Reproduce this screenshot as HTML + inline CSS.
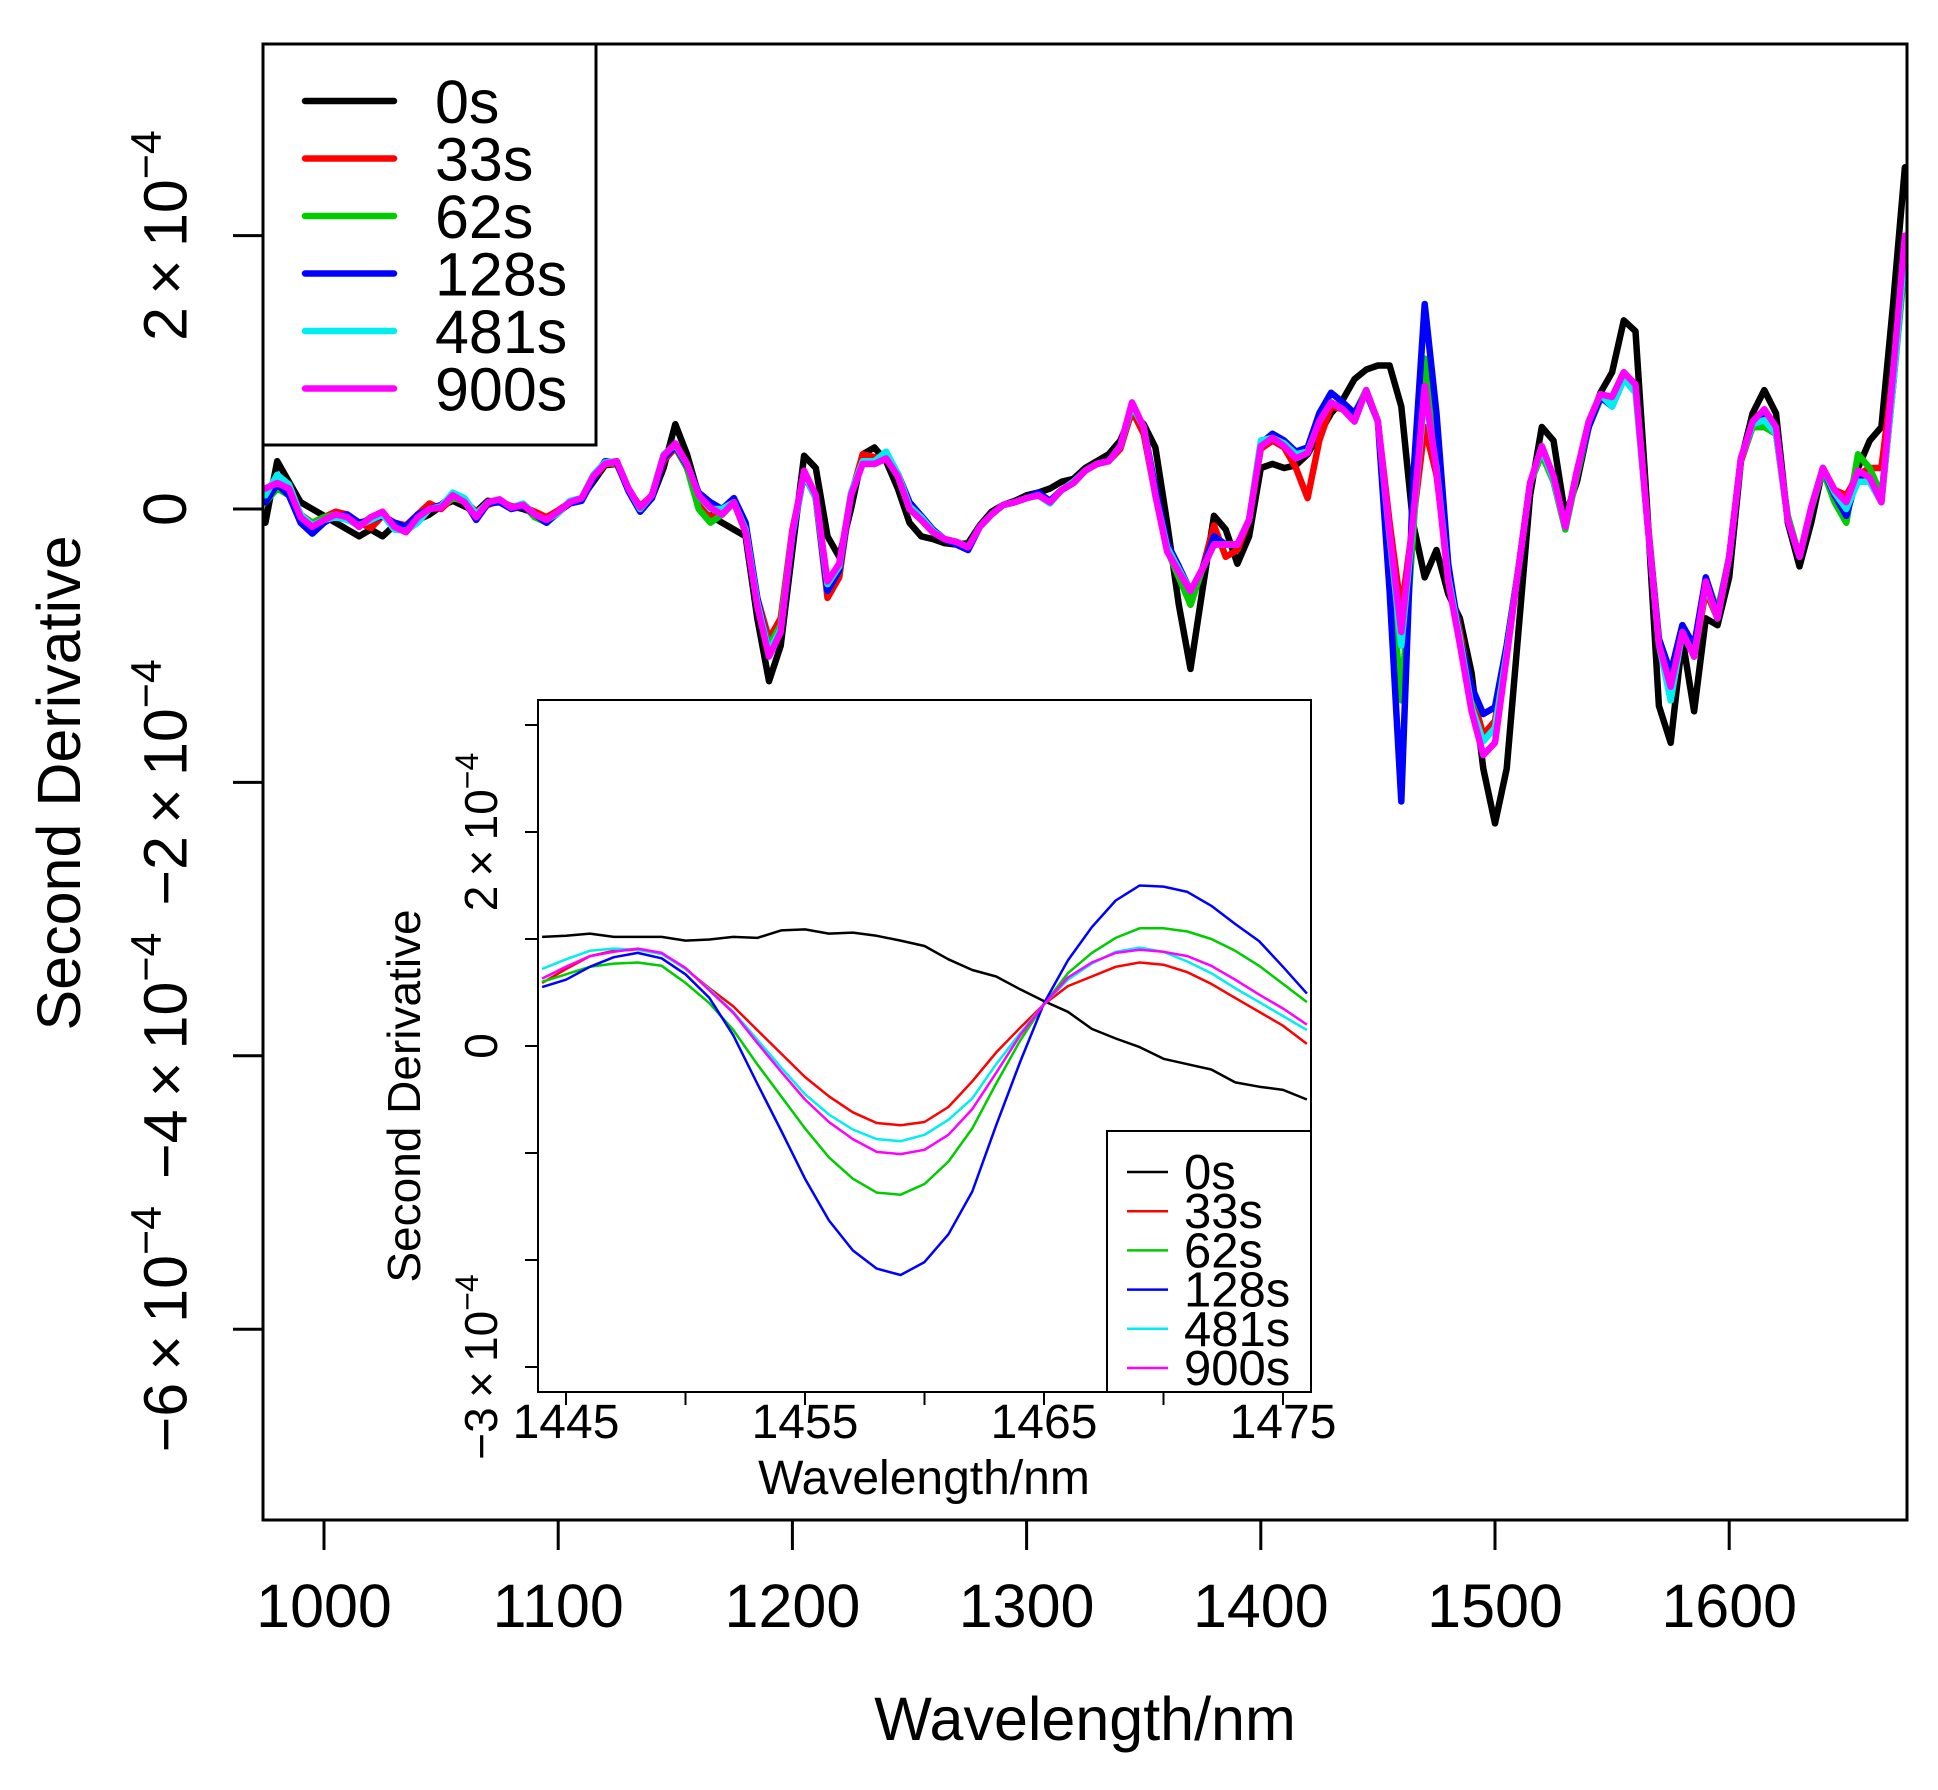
<!DOCTYPE html>
<html><head><meta charset="utf-8"><style>
html,body{margin:0;padding:0;background:#fff}
svg{display:block;font-family:"Liberation Sans",Arial,sans-serif}
</style></head><body>
<svg id="chart" width="1938" height="1790" viewBox="0 0 1938 1790" xmlns="http://www.w3.org/2000/svg">
<defs>
<clipPath id="mainClip"><rect x="263" y="44" width="1644" height="1476"/></clipPath>
<clipPath id="insetClip"><rect x="538" y="700" width="773" height="692"/></clipPath>
</defs>
<rect x="0" y="0" width="1938" height="1790" fill="#fff"/>
<g id="mainLines" clip-path="url(#mainClip)"></g>
<rect x="263" y="44" width="1644" height="1476" fill="none" stroke="#000" stroke-width="3"/>
<g id="mainXTicks"></g>
<g id="mainYTicks"></g>
<text x="1085" y="1740" font-size="61" text-anchor="middle">Wavelength/nm</text>
<text transform="translate(80,783) rotate(-90)" font-size="61" text-anchor="middle">Second Derivative</text>
<g>
<rect x="263" y="44" width="333" height="401" fill="#fff" stroke="#000" stroke-width="3"/>
<g id="mainLegend"></g>
</g>
<g>
<rect x="538" y="700" width="773" height="692" fill="#fff"/>
<g id="insetLines" clip-path="url(#insetClip)"></g>
<g>
<rect x="1107" y="1131" width="204" height="261" fill="#fff" stroke="#000" stroke-width="2"/>
<g id="insetLegend"></g>
</g>
<rect x="538" y="700" width="773" height="692" fill="none" stroke="#000" stroke-width="2"/>
<g id="insetXTicks"></g>
<g id="insetYTicks"></g>
<text x="924" y="1494" font-size="48" text-anchor="middle">Wavelength/nm</text>
<text transform="translate(420,1096) rotate(-90)" font-size="46" text-anchor="middle">Second Derivative</text>
</g>
</svg>
<script>
// ===== main chart data (values in units of 1e-4), wavelengths 975..1675 step 5 =====
const mainStart = 975, mainStep = 5;
const seriesLabels = ["0s","33s","62s","128s","481s","900s"];
const seriesColors = ["#000000","#ff0000","#00cc00","#0000ff","#00eeee","#ff00ff"];
const main0s = [
-0.1,0.35,0.2,0.05,0.0,-0.05,-0.1,-0.15,-0.2,-0.15,
-0.2,-0.12,-0.12,-0.08,-0.04,0.02,0.06,0.02,-0.02,0.06,
0.05,0.02,0.0,-0.03,-0.06,-0.02,0.04,0.08,0.2,0.32,
0.33,0.15,0.0,0.08,0.3,0.62,0.4,0.1,-0.05,-0.1,
-0.15,-0.2,-0.8,-1.26,-1.0,-0.3,0.39,0.3,-0.2,-0.35,
0.0,0.4,0.45,0.35,0.15,-0.1,-0.2,-0.22,-0.25,-0.26,
-0.25,-0.12,-0.02,0.03,0.06,0.1,0.12,0.15,0.2,0.22,
0.3,0.35,0.4,0.5,0.7,0.62,0.45,-0.1,-0.7,-1.17,
-0.6,-0.05,-0.15,-0.4,-0.2,0.3,0.33,0.3,0.32,0.4,
0.55,0.7,0.8,0.95,1.02,1.05,1.05,0.75,-0.1,-0.5,
-0.3,-0.62,-0.8,-1.2,-1.9,-2.3,-1.9,-0.9,0.1,0.6,
0.5,-0.05,0.2,0.6,0.85,1.0,1.38,1.3,0.0,-1.44,
-1.71,-0.95,-1.48,-0.8,-0.85,-0.5,0.35,0.7,0.87,0.7,
-0.1,-0.42,-0.1,0.3,0.1,0.05,0.3,0.5,0.6,1.5,
2.5];
const main33s = [
0.1,0.2,0.12,-0.04,-0.1,-0.06,-0.02,-0.04,-0.1,-0.14,
-0.05,-0.1,-0.12,-0.04,0.04,0.0,0.08,0.06,-0.02,0.03,
0.06,0.02,0.02,-0.02,-0.06,-0.01,0.05,0.08,0.22,0.33,
0.33,0.14,0.02,0.1,0.35,0.45,0.3,0.05,-0.06,-0.04,
0.05,-0.17,-0.65,-0.95,-0.8,-0.15,0.25,0.08,-0.65,-0.5,
0.1,0.4,0.38,0.37,0.24,0.0,-0.08,-0.17,-0.22,-0.24,
-0.28,-0.13,-0.04,0.03,0.05,0.08,0.1,0.05,0.14,0.19,
0.28,0.33,0.35,0.44,0.72,0.55,0.1,-0.25,-0.42,-0.7,
-0.44,-0.12,-0.35,-0.3,-0.08,0.44,0.5,0.45,0.3,0.08,
0.5,0.75,0.73,0.64,0.87,0.64,-0.1,-0.75,-0.1,0.6,
0.25,-0.45,-0.9,-1.35,-1.65,-1.55,-1.0,-0.44,0.19,0.4,
0.24,-0.13,0.28,0.6,0.82,0.82,1.0,0.9,-0.05,-0.95,
-1.2,-0.85,-1.08,-0.6,-0.8,-0.35,0.35,0.6,0.6,0.55,
-0.08,-0.35,0.0,0.3,0.14,0.1,0.25,0.3,0.3,1.0,
1.9];
const main62s = [
0.05,0.15,0.1,-0.05,-0.1,-0.06,-0.04,-0.06,-0.12,-0.06,
-0.04,-0.12,-0.14,-0.06,0.0,0.02,0.08,0.06,-0.05,0.05,
0.06,0.01,0.03,-0.06,-0.1,-0.03,0.05,0.08,0.24,0.33,
0.34,0.15,0.01,0.1,0.38,0.46,0.3,0.0,-0.1,-0.04,
0.05,-0.17,-0.7,-1.0,-0.85,-0.17,0.26,0.08,-0.6,-0.45,
0.1,0.35,0.35,0.37,0.24,0.0,-0.08,-0.17,-0.22,-0.24,
-0.28,-0.13,-0.04,0.03,0.05,0.08,0.1,0.05,0.14,0.19,
0.28,0.33,0.35,0.46,0.75,0.6,0.1,-0.3,-0.5,-0.7,
-0.44,-0.26,-0.26,-0.26,-0.08,0.46,0.55,0.5,0.4,0.45,
0.64,0.78,0.73,0.7,0.87,0.64,-0.4,-1.4,-0.2,1.1,
0.4,-0.45,-0.95,-1.35,-1.5,-1.45,-1.0,-0.44,0.19,0.4,
0.2,-0.15,0.25,0.6,0.8,0.8,0.95,0.9,-0.08,-0.95,
-1.2,-0.85,-1.05,-0.5,-0.75,-0.35,0.37,0.6,0.6,0.55,
-0.05,-0.35,0.0,0.28,0.05,-0.1,0.4,0.3,0.1,0.9,
1.8];
const main128s = [
0.05,0.18,0.1,-0.1,-0.18,-0.1,-0.05,-0.04,-0.1,-0.08,
-0.05,-0.1,-0.13,-0.04,0.0,0.03,0.1,0.06,-0.08,0.04,
0.05,0.0,0.02,-0.04,-0.1,-0.02,0.04,0.06,0.22,0.35,
0.34,0.13,-0.02,0.08,0.37,0.46,0.32,0.12,0.05,0.0,
0.08,-0.1,-0.65,-1.05,-0.9,-0.2,0.26,0.08,-0.6,-0.45,
0.1,0.35,0.33,0.37,0.26,0.05,-0.05,-0.15,-0.22,-0.26,
-0.3,-0.13,-0.04,0.03,0.05,0.08,0.12,0.06,0.14,0.19,
0.28,0.33,0.35,0.46,0.76,0.6,0.15,-0.25,-0.42,-0.6,
-0.44,-0.2,-0.26,-0.26,-0.08,0.48,0.55,0.5,0.42,0.45,
0.7,0.85,0.78,0.7,0.85,0.64,-0.6,-2.14,0.2,1.5,
0.7,-0.4,-0.95,-1.3,-1.5,-1.45,-1.0,-0.44,0.19,0.45,
0.24,-0.13,0.28,0.6,0.82,0.75,0.95,0.9,-0.08,-0.95,
-1.2,-0.85,-1.0,-0.5,-0.78,-0.35,0.37,0.62,0.7,0.6,
-0.08,-0.35,0.01,0.3,0.1,-0.05,0.25,0.2,0.05,0.9,
1.9];
const main481s = [
0.1,0.25,0.18,-0.04,-0.12,-0.08,-0.06,-0.08,-0.12,-0.08,
-0.04,-0.15,-0.16,-0.1,0.0,0.02,0.12,0.08,-0.04,0.05,
0.07,0.01,0.04,-0.04,-0.08,-0.03,0.06,0.08,0.25,0.34,
0.35,0.15,0.0,0.1,0.4,0.47,0.33,0.1,0.0,0.0,
0.05,-0.15,-0.68,-1.05,-0.88,-0.18,0.26,0.08,-0.55,-0.42,
0.12,0.35,0.35,0.42,0.26,0.02,-0.06,-0.16,-0.22,-0.24,
-0.28,-0.13,-0.04,0.03,0.05,0.08,0.1,0.04,0.14,0.2,
0.28,0.33,0.35,0.46,0.76,0.6,0.1,-0.28,-0.44,-0.6,
-0.44,-0.26,-0.26,-0.26,-0.08,0.5,0.52,0.48,0.4,0.42,
0.64,0.78,0.73,0.64,0.87,0.64,-0.2,-1.0,-0.1,0.85,
0.3,-0.5,-0.95,-1.45,-1.7,-1.6,-1.05,-0.44,0.19,0.44,
0.22,-0.13,0.28,0.64,0.84,0.75,0.95,0.85,-0.08,-0.99,
-1.4,-0.9,-1.08,-0.55,-0.8,-0.35,0.37,0.62,0.65,0.55,
-0.08,-0.35,0.01,0.3,0.12,0.0,0.2,0.2,0.05,0.9,
1.9];
const main900s = [
0.15,0.19,0.15,-0.06,-0.13,-0.08,-0.04,-0.06,-0.13,-0.06,
-0.02,-0.13,-0.17,-0.06,0,0.01,0.1,0.05,-0.06,0.05,
0.07,0.01,0.03,-0.04,-0.08,-0.02,0.05,0.08,0.24,0.33,
0.35,0.15,0.01,0.1,0.39,0.48,0.33,0.1,0.01,-0.04,
0.05,-0.17,-0.71,-1.08,-0.9,-0.17,0.28,0.1,-0.53,-0.4,
0.1,0.33,0.33,0.37,0.24,0,-0.08,-0.17,-0.22,-0.24,
-0.28,-0.13,-0.04,0.03,0.05,0.08,0.1,0.05,0.14,0.19,
0.28,0.33,0.35,0.46,0.78,0.6,0.1,-0.31,-0.46,-0.6,
-0.44,-0.26,-0.26,-0.26,-0.08,0.46,0.52,0.46,0.37,0.41,
0.64,0.78,0.73,0.64,0.87,0.64,-0.17,-0.9,-0.08,0.9,
0.28,-0.53,-0.99,-1.48,-1.8,-1.71,-1.08,-0.44,0.19,0.46,
0.24,-0.13,0.28,0.64,0.84,0.82,1.0,0.91,-0.08,-0.99,
-1.3,-0.9,-1.08,-0.53,-0.8,-0.35,0.37,0.64,0.73,0.6,
-0.08,-0.35,0.01,0.3,0.14,0.05,0.28,0.23,0.05,1.0,
2.0];
const mainXTickValues = [1000,1100,1200,1300,1400,1500,1600];
const mainYTickValues = [2,0,-2,-4,-6];

// ===== inset data, wavelengths 1444..1476 step 1 =====
const insetStart = 1444, insetStep = 1;
const inset0s = [1.02,1.03,1.05,1.02,1.02,1.02,0.985,0.995,1.02,1.01,1.08,1.09,1.05,1.06,1.03,0.985,0.935,0.81,0.71,0.65,0.53,0.42,0.32,0.16,0.07,-0.01,-0.12,-0.17,-0.22,-0.34,-0.38,-0.41,-0.50];
const inset33s = [0.59,0.72,0.84,0.89,0.90,0.87,0.72,0.54,0.37,0.15,-0.07,-0.29,-0.47,-0.62,-0.72,-0.74,-0.71,-0.57,-0.33,-0.06,0.17,0.39,0.56,0.65,0.74,0.78,0.76,0.69,0.58,0.45,0.32,0.19,0.02];
const inset62s = [0.60,0.67,0.74,0.77,0.78,0.75,0.59,0.40,0.15,-0.17,-0.47,-0.77,-1.04,-1.24,-1.37,-1.39,-1.29,-1.08,-0.77,-0.35,0.05,0.39,0.68,0.87,1.01,1.10,1.10,1.07,1.00,0.89,0.75,0.58,0.41];
const inset128s = [0.55,0.62,0.74,0.83,0.87,0.82,0.67,0.45,0.10,-0.35,-0.79,-1.24,-1.63,-1.91,-2.08,-2.14,-2.02,-1.76,-1.36,-0.74,-0.15,0.40,0.80,1.11,1.36,1.50,1.49,1.44,1.31,1.14,0.98,0.74,0.49];
const inset481s = [0.72,0.81,0.89,0.91,0.90,0.86,0.72,0.53,0.32,0.06,-0.20,-0.45,-0.64,-0.78,-0.87,-0.89,-0.83,-0.69,-0.49,-0.17,0.12,0.39,0.62,0.77,0.88,0.92,0.88,0.79,0.68,0.54,0.41,0.28,0.15];
const inset900s = [0.63,0.74,0.84,0.88,0.91,0.87,0.73,0.52,0.31,0.03,-0.24,-0.50,-0.71,-0.87,-0.99,-1.01,-0.97,-0.83,-0.59,-0.25,0.10,0.39,0.64,0.78,0.87,0.90,0.88,0.84,0.75,0.62,0.48,0.35,0.20];
const insetXTickValues = [1445,1450,1455,1460,1465,1470,1475];
const insetXLabelValues = [1445,1455,1465,1475];
const insetYTickValues = [3,2,1,0,-1,-2,-3];
const insetYLabelValues = [2,0,-3];

const mainSeries = [main0s,main33s,main62s,main128s,main481s,main900s];
const insetSeries = [inset0s,inset33s,inset62s,inset128s,inset481s,inset900s];

const NS = "http://www.w3.org/2000/svg";
function mx(nm){ return 324 + (nm-1000)*2.342; }
function my(v){ return 509 - v*136.7; }
function ix(nm){ return 566 + (nm-1445)*23.9; }
function iy(v){ return 1046 - v*107; }
function mk(tag, attrs, parent){
  const e = document.createElementNS(NS, tag);
  for (const k in attrs) e.setAttribute(k, attrs[k]);
  parent.appendChild(e);
  return e;
}
function sciLabel(parent, x, y, mant, size, name){
  const t = mk('text', {transform:`translate(${x},${y}) rotate(-90)`, 'font-size':size, 'text-anchor':'middle'}, parent);
  
  
  if (mant === 0) { t.textContent = '0'; t.setAttribute('dominant-baseline','central'); return; }
  t.setAttribute('dy', '0.35em');
  const a = document.createElementNS(NS,'tspan');
  a.textContent = (mant<0?'\u2212':'') + Math.abs(mant) + '\u2009\u00d7\u200910';
  t.appendChild(a);
  const b = document.createElementNS(NS,'tspan');
  b.setAttribute('font-size', Math.round(size*0.7));
  b.setAttribute('dy', -size*0.42);
  b.textContent = '\u22124';
  t.appendChild(b);
}

// main series
const gMain = document.getElementById('mainLines');
mainSeries.forEach((arr, s) => {
  const pts = arr.map((v,i) => mx(mainStart+i*mainStep).toFixed(1)+','+my(v).toFixed(1)).join(' ');
  const p = mk('polyline', {points:pts, fill:'none', stroke:seriesColors[s], 'stroke-width':6.5, 'stroke-linejoin':'round', 'stroke-linecap':'round'}, gMain);
  
  
});
// main x ticks
const gMX = document.getElementById('mainXTicks');
mainXTickValues.forEach(v => {
  const l = mk('line', {x1:mx(v), x2:mx(v), y1:1520, y2:1550, stroke:'#000', 'stroke-width':3}, gMX);
  
  
  const t = mk('text', {x:mx(v), y:1627, 'font-size':61, 'text-anchor':'middle'}, gMX);
  
  
  t.textContent = v;
});
// main y ticks
const gMY = document.getElementById('mainYTicks');
mainYTickValues.forEach(v => {
  const l = mk('line', {x1:233, x2:263, y1:my(v), y2:my(v), stroke:'#000', 'stroke-width':3}, gMY);
  
  
  sciLabel(gMY, 165, my(v), v, 61, 'main-y-tick-label');
});
// main legend
const gML = document.getElementById('mainLegend');
seriesLabels.forEach((lab, s) => {
  const y = 101 + s*57.5;
  const l = mk('line', {x1:305, x2:394, y1:y, y2:y, stroke:seriesColors[s], 'stroke-width':6.5, 'stroke-linecap':'round'}, gML);
  
  
  const t = mk('text', {x:435, y:y+22, 'font-size':61}, gML);
  
  
  t.textContent = lab;
});

// inset series
const gIn = document.getElementById('insetLines');
insetSeries.forEach((arr, s) => {
  const pts = arr.map((v,i) => ix(insetStart+i*insetStep).toFixed(1)+','+iy(v).toFixed(1)).join(' ');
  const p = mk('polyline', {points:pts, fill:'none', stroke:seriesColors[s], 'stroke-width':2.5, 'stroke-linejoin':'round'}, gIn);
  
  
});
const gIX = document.getElementById('insetXTicks');
insetXTickValues.forEach(v => {
  const l = mk('line', {x1:ix(v), x2:ix(v), y1:1392, y2:1405, stroke:'#000', 'stroke-width':2}, gIX);
  
  
});
insetXLabelValues.forEach(v => {
  const t = mk('text', {x:ix(v), y:1438, 'font-size':48, 'text-anchor':'middle'}, gIX);
  
  
  t.textContent = v;
});
const gIY = document.getElementById('insetYTicks');
insetYTickValues.forEach(v => {
  const l = mk('line', {x1:525, x2:538, y1:iy(v), y2:iy(v), stroke:'#000', 'stroke-width':2}, gIY);
  
  
});
insetYLabelValues.forEach(v => {
  sciLabel(gIY, 481, iy(v), v, 46, 'inset-y-tick-label');
});
const gIL = document.getElementById('insetLegend');
seriesLabels.forEach((lab, s) => {
  const y = 1172 + s*39.2;
  const l = mk('line', {x1:1127, x2:1168, y1:y, y2:y, stroke:seriesColors[s], 'stroke-width':2.5}, gIL);
  
  
  const t = mk('text', {x:1184, y:y+17, 'font-size':49}, gIL);
  
  
  t.textContent = lab;
});
</script>
</body></html>
